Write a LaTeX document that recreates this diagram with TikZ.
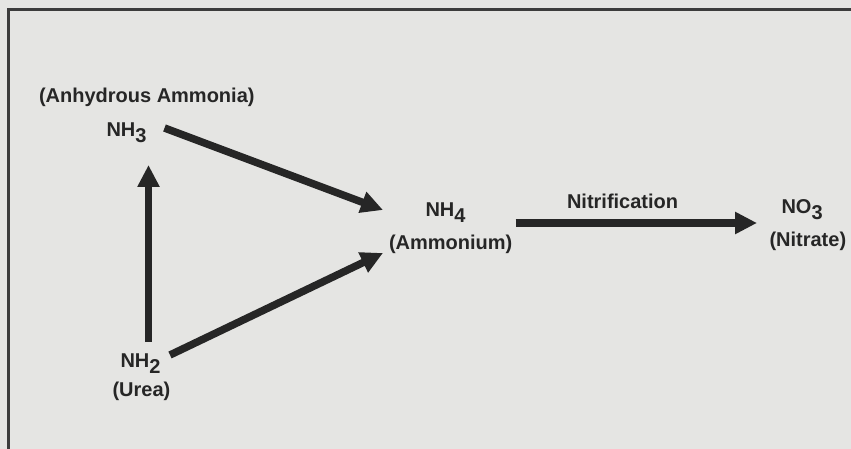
\documentclass[tikz,border=0pt]{standalone}
\usepackage{fontspec}
\setmainfont{Liberation Sans}
\usetikzlibrary{arrows.meta,calc}
\definecolor{paper}{RGB}{229,229,227}
\definecolor{ink}{RGB}{38,38,38}
\definecolor{framecol}{RGB}{60,60,60}
\newcommand\chemsub[1]{\raisebox{-5.5pt}{#1}}
\tikzset{
  lbl/.style={anchor=base west, inner sep=0pt, outer sep=0pt, text=ink,
    font=\fontsize{20}{24}\selectfont\bfseries},
  flow/.style={draw=ink, line width=7.5pt, line cap=butt,
    -{Triangle[length=22pt,width=21pt]}},
  framel/.style={draw=framecol, line width=3pt, line join=miter}
}
\begin{document}
\begin{tikzpicture}[x=1pt,y=-1pt]
\path[fill=paper] (0,0) rectangle (851,449);
\useasboundingbox (0,0) rectangle (851,449);
\draw[framel] (8,452) -- (8,9.5) -- (854,9.5);
% labels
\node[lbl] (anh) at (39,102.5) {(Anhydrous Ammonia)};
\node[lbl] (nh3) at (106.5,137) {NH\chemsub{3}};
\node[lbl] (nh4) at (425.5,217) {NH\chemsub{4}};
\node[lbl] (amm) at (389,249) {(Ammonium)};
\node[lbl] (nit) at (567,209) {Nitrification};
\node[lbl] (no3) at (781.5,214) {NO\chemsub{3}};
\node[lbl] (nitr) at (769.5,246.5) {(Nitrate)};
\node[lbl] (nh2) at (120.5,367.5) {NH\chemsub{2}};
\node[lbl] (urea) at (112.5,396) {(Urea)};
% arrows
\draw[flow] ($(nh3.base east)+(18,-9)$) -- ($(nh4.base west)+(-42.5,-7)$);
\draw[flow] ($(nh2.base west)+(28,-25.5)$) -- ($(nh3.base west)+(42,28)$);
\draw[flow] ($(nh2.base east)+(9.5,-12.5)$) -- ($(amm.base west)+(-6,4)$);
\draw[flow] ($(nh4.base east)+(50,6)$) -- ($(no3.base west)+(-24.5,9)$);
\end{tikzpicture}
\end{document}
